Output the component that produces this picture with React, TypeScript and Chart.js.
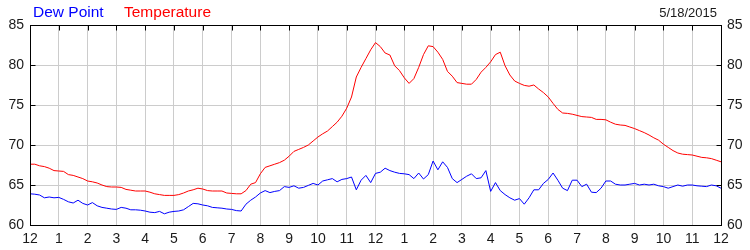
import React, { useEffect, useRef } from "react";
import { Chart, registerables } from "chart.js";

Chart.register(...registerables);

const hourLabels = [
  "12", "1", "2", "3", "4", "5", "6", "7", "8", "9", "10", "11",
  "12", "1", "2", "3", "4", "5", "6", "7", "8", "9", "10", "11", "12",
];
const yTicks = [60, 65, 70, 75, 80, 85];
const sampleMinutes = 10;
const dateLabel = "5/18/2015";
const seriesNames = ["Dew Point", "Temperature"];
const seriesColors = ["#0000ff", "#ff0000"];

const temperature = [
  67.6, 67.6, 67.4, 67.3, 67.1, 66.8, 66.75, 66.7, 66.3, 66.2, 66.0, 65.8,
  65.5, 65.4, 65.25, 65.0, 64.8, 64.75, 64.75, 64.7, 64.45, 64.35, 64.25, 64.25,
  64.25, 64.1, 63.9, 63.8, 63.7, 63.7, 63.7, 63.8, 64.0, 64.25, 64.4, 64.6,
  64.5, 64.3, 64.25, 64.25, 64.25, 64.0, 63.95, 63.9, 63.9, 64.3, 65.1, 65.3,
  66.4, 67.2, 67.4, 67.6, 67.8, 68.1, 68.6, 69.2, 69.45, 69.7, 70.0, 70.5,
  71.0, 71.4, 71.75, 72.3, 72.85, 73.6, 74.6, 76.0, 78.5, 79.7, 80.8, 81.9,
  82.8, 82.3, 81.5, 81.25, 79.9, 79.3, 78.4, 77.7, 78.3, 79.7, 81.3, 82.4,
  82.3, 81.6, 80.7, 79.2, 78.6, 77.8, 77.7, 77.6, 77.6, 78.2, 79.1, 79.7,
  80.4, 81.3, 81.6, 79.9, 78.75, 78.0, 77.7, 77.45, 77.35, 77.5, 77.0, 76.55,
  76.0, 75.2, 74.45, 74.0, 73.95, 73.85, 73.7, 73.55, 73.5, 73.45, 73.2, 73.2,
  73.15, 72.85, 72.6, 72.5, 72.45, 72.25, 72.05, 71.8, 71.55, 71.25, 70.9, 70.6,
  70.1, 69.7, 69.3, 69.0, 68.85, 68.8, 68.75, 68.6, 68.45, 68.4, 68.3, 68.1,
  67.9,
];

const dewPoint = [
  63.9, 63.85, 63.75, 63.4, 63.5, 63.4, 63.45, 63.2, 62.9, 62.75, 63.1, 62.7,
  62.5, 62.8, 62.4, 62.2, 62.1, 62.0, 61.95, 62.2, 62.1, 61.9, 61.9, 61.85,
  61.75, 61.6, 61.55, 61.7, 61.4, 61.6, 61.7, 61.75, 61.9, 62.3, 62.7, 62.65,
  62.5, 62.4, 62.2, 62.15, 62.1, 62.0, 61.95, 61.8, 61.75, 62.6, 63.1, 63.5,
  64.0, 64.3, 64.05, 64.2, 64.3, 64.8, 64.7, 64.9, 64.6, 64.7, 64.95, 65.2,
  65.0, 65.5, 65.65, 65.8, 65.4, 65.7, 65.8, 66.0, 64.4, 65.6, 66.2, 65.3,
  66.45, 66.6, 67.1, 66.8, 66.6, 66.45, 66.4, 66.3, 65.8, 66.5, 65.75, 66.3,
  68.0, 66.9, 67.9, 67.2, 65.8, 65.3, 65.7, 66.1, 66.4, 65.8, 65.9, 66.8,
  64.2, 65.3, 64.3, 63.8, 63.4, 63.1, 63.3, 62.6, 63.4, 64.4, 64.4, 65.2,
  65.7, 66.5, 65.6, 64.6, 64.3, 65.6, 65.6, 64.8, 65.1, 64.1, 64.05, 64.6,
  65.5, 65.5, 65.1, 65.0, 65.0, 65.1, 65.2, 65.0, 65.1, 65.0, 65.1, 64.9,
  64.8, 64.6, 64.8, 65.0, 64.85, 65.0, 65.0, 64.9, 64.85, 64.8, 65.0, 64.9,
  64.6,
];

const FONT = "'Liberation Sans', Arial, sans-serif";
const TEXT = "#1a1a1a";

const toPoints = (arr: number[]) =>
  arr.map((v, i) => ({ x: (i * sampleMinutes) / 60, y: v }));

const framePlugin = {
  id: "frame",
  afterDatasetsDraw(chart: any) {
    const { ctx, chartArea } = chart;
    const { left, right, top, bottom } = chartArea;
    const xs = chart.scales.x;
    const ys = chart.scales.y;
    const a = (v: number) => Math.round(v) + 0.5;
    ctx.save();
    ctx.strokeStyle = "#000";
    ctx.lineWidth = 1;
    ctx.beginPath();
    ctx.moveTo(a(left), a(top));
    ctx.lineTo(a(right), a(top));
    ctx.lineTo(a(right), a(bottom));
    ctx.lineTo(a(left), a(bottom));
    ctx.closePath();
    // top ticks
    for (let h = 0; h < hourLabels.length; h++) {
      const x = a(xs.getPixelForValue(h));
      ctx.moveTo(x, a(top));
      ctx.lineTo(x, a(top) + 5);
    }
    // left/right ticks
    for (const t of yTicks) {
      const y = a(ys.getPixelForValue(t));
      ctx.moveTo(a(left), y);
      ctx.lineTo(a(left) + 5, y);
      ctx.moveTo(a(right), y);
      ctx.lineTo(a(right) - 5, y);
    }
    ctx.stroke();

    // legend texts
    ctx.font = `15.5px ${FONT}`;
    ctx.textBaseline = "alphabetic";
    ctx.textAlign = "left";
    ctx.fillStyle = seriesColors[0];
    ctx.fillText(seriesNames[0], 33, 17);
    ctx.fillStyle = seriesColors[1];
    ctx.fillText(seriesNames[1], 124, 17);

    // date
    ctx.font = `13px ${FONT}`;
    ctx.fillStyle = TEXT;
    ctx.textAlign = "right";
    ctx.fillText(dateLabel, 717, 17);
    ctx.restore();
  },
};

export default function App() {
  const ref = useRef<HTMLCanvasElement | null>(null);

  useEffect(() => {
    document.body.style.margin = "0";
    const canvas = ref.current;
    if (!canvas) return;
    const chart = new Chart(canvas, {
      type: "line",
      data: {
        datasets: [
          {
            label: seriesNames[1],
            data: toPoints(temperature),
            borderColor: seriesColors[1],
            borderWidth: 1,
            pointRadius: 0,
            tension: 0,
            yAxisID: "y",
          },
          {
            label: seriesNames[0],
            data: toPoints(dewPoint),
            borderColor: seriesColors[0],
            borderWidth: 1,
            pointRadius: 0,
            tension: 0,
            yAxisID: "y",
          },
        ],
      },
      options: {
        animation: false,
        responsive: false,
        layout: { padding: { top: 25, left: 0, right: 0, bottom: 0 } },
        plugins: {
          legend: { display: false },
          tooltip: { enabled: false },
          title: { display: false },
        },
        scales: {
          x: {
            type: "linear",
            min: 0,
            max: 24,
            afterFit: (s: any) => {
              s.height = 25;
            },
            grid: { color: "#cccccc", drawTicks: false, lineWidth: 1 },
            border: { color: "#000", width: 1 },
            ticks: {
              stepSize: 1,
              autoSkip: false,
              maxRotation: 0,
              padding: 6,
              color: TEXT,
              font: { family: FONT, size: 14 },
              callback: (v: any) => hourLabels[Number(v)] ?? "",
            },
          },
          y: {
            type: "linear",
            position: "left",
            min: 60,
            max: 85,
            afterFit: (s: any) => {
              s.width = 30;
            },
            grid: { color: "#cccccc", drawTicks: false, lineWidth: 1 },
            border: { color: "#000", width: 1 },
            ticks: {
              stepSize: 5,
              padding: 6,
              color: TEXT,
              font: { family: FONT, size: 14 },
            },
          },
          y2: {
            type: "linear",
            position: "right",
            min: 60,
            max: 85,
            afterFit: (s: any) => {
              s.width = 29;
            },
            grid: { display: false, drawTicks: false },
            border: { color: "#000", width: 1 },
            ticks: {
              stepSize: 5,
              padding: 6,
              color: TEXT,
              font: { family: FONT, size: 14 },
            },
          },
        },
      },
      plugins: [framePlugin],
    });
    return () => chart.destroy();
  }, []);

  return (
    <div style={{ width: 750, height: 250, background: "#fff" }}>
      <canvas ref={ref} width={750} height={250} style={{ display: "block" }} />
    </div>
  );
}
